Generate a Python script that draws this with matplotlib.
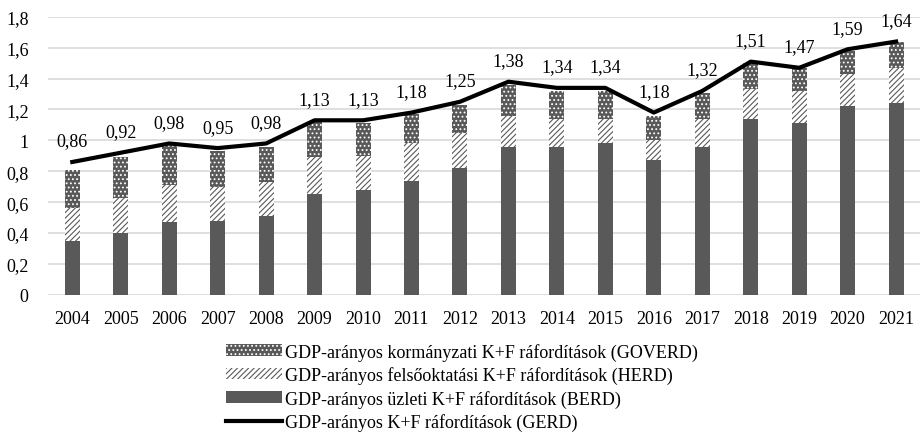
import matplotlib.pyplot as plt
import matplotlib.patches as mpatches
import matplotlib.lines as mlines
import numpy as np

plt.rcParams['font.family'] = ['Liberation Serif', 'DejaVu Serif']
plt.rcParams['hatch.linewidth'] = 0.8

years = ['2004', '2005', '2006', '2007', '2008', '2009', '2010', '2011', '2012',
         '2013', '2014', '2015', '2016', '2017', '2018', '2019', '2020', '2021']
berd = [0.35, 0.40, 0.47, 0.48, 0.51, 0.65, 0.68, 0.74, 0.82,
        0.96, 0.96, 0.98, 0.87, 0.96, 1.14, 1.11, 1.22, 1.24]
herd = [0.21, 0.23, 0.24, 0.22, 0.22, 0.24, 0.22, 0.24, 0.23,
        0.20, 0.18, 0.16, 0.13, 0.18, 0.19, 0.21, 0.21, 0.23]
goverd = [0.25, 0.26, 0.26, 0.23, 0.23, 0.23, 0.21, 0.19, 0.18,
          0.20, 0.18, 0.18, 0.16, 0.17, 0.17, 0.15, 0.15, 0.17]
gerd = [0.86, 0.92, 0.98, 0.95, 0.98, 1.13, 1.13, 1.18, 1.25,
        1.38, 1.34, 1.34, 1.18, 1.32, 1.51, 1.47, 1.59, 1.64]

labels = ['GDP-arányos kormányzati K+F ráfordítások (GOVERD)',
          'GDP-arányos felsőoktatási K+F ráfordítások (HERD)',
          'GDP-arányos üzleti K+F ráfordítások (BERD)',
          'GDP-arányos K+F ráfordítások (GERD)']

dark = '#595959'
x = np.arange(len(years))
berd = np.array(berd)
herd = np.array(herd)
goverd = np.array(goverd)

fig = plt.figure(figsize=(9.24, 4.35), dpi=100)
ax = fig.add_axes([0.052, 0.32, 0.944, 0.639])

w = 0.31
ax.bar(x, berd, w, color=dark, linewidth=0, zorder=2)
ax.bar(x, herd, w, bottom=berd, facecolor='white', edgecolor=dark,
       hatch='//////', linewidth=0, zorder=2)
ax.bar(x, goverd, w, bottom=berd + herd, facecolor=dark, edgecolor='white',
       hatch='....', linewidth=0, zorder=2)
ax.plot(x, gerd, color='black', linewidth=3, zorder=3, solid_joinstyle='round')

for xi, v in zip(x, gerd):
    ax.annotate(f'{v:.2f}'.replace('.', ','), (xi, v), xytext=(0, 9),
                textcoords='offset points', ha='center', va='bottom',
                fontsize=13, annotation_clip=False)

ticks = np.arange(0, 1.81, 0.2)
ax.set_xlim(-0.5, len(years) - 0.5)
ax.set_ylim(0, 1.8)
ax.set_yticks(ticks)
ax.set_yticklabels([f'{t:.1f}'.replace('.', ',').replace(',0', '') for t in ticks])
ax.set_xticks(x)
ax.set_xticklabels(years)
ax.tick_params(length=0, labelsize=13)
ax.tick_params(axis='y', pad=14)
ax.tick_params(axis='x', pad=11)
ax.grid(axis='y', color='#d9d9d9', linewidth=1.2, zorder=0)
ax.set_axisbelow(True)
for s in ax.spines.values():
    s.set_visible(False)

handles = [
    mpatches.Patch(facecolor=dark, edgecolor='white', hatch='....', linewidth=0),
    mpatches.Patch(facecolor='white', edgecolor=dark, hatch='//////', linewidth=0),
    mpatches.Patch(facecolor=dark, linewidth=0),
    mlines.Line2D([], [], color='black', linewidth=3),
]
fig.legend(handles, labels, loc='upper left', bbox_to_anchor=(0.245, 0.21),
           frameon=False, fontsize=13, handlelength=3.1, handleheight=0.6,
           handletextpad=0.15, labelspacing=0.31, borderpad=0, borderaxespad=0)

fig.savefig('out.png', dpi=100)
